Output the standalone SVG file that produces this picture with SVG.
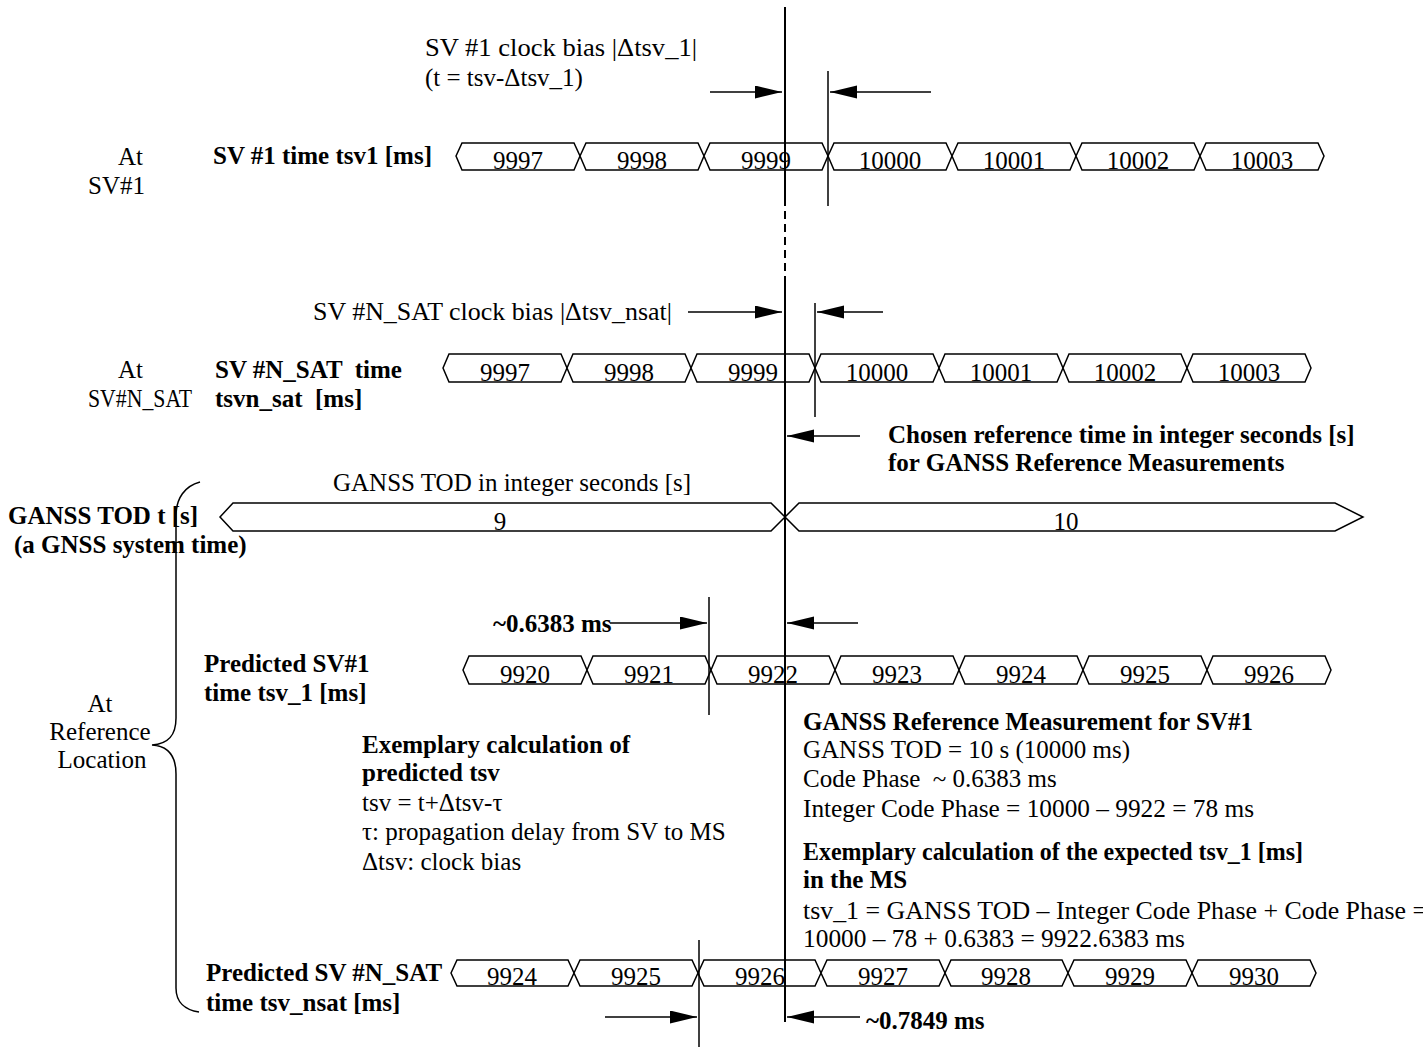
<svg xmlns="http://www.w3.org/2000/svg" width="1423" height="1050" viewBox="0 0 1423 1050">
<defs>
<marker id="ah" markerUnits="userSpaceOnUse" markerWidth="28" markerHeight="14" refX="27" refY="6.5" orient="auto">
<path d="M0,0 L27,6.5 L0,13 z" fill="#000"/>
</marker>
</defs>
<style>
text{font-family:"Liberation Serif","Times New Roman",serif;font-size:25px;fill:#000;white-space:pre}
.b{font-weight:bold}
.m{text-anchor:middle}
.cell{fill:#fff;stroke:#000;stroke-width:1.5}
.ln{stroke:#000;stroke-width:1.5;fill:none}
.arr{stroke:#000;stroke-width:1.5;fill:none;marker-end:url(#ah)}
</style>
<rect width="1423" height="1050" fill="#fff"/>

<g id="labels">
<text x="425" y="56" textLength="272" lengthAdjust="spacingAndGlyphs">SV #1 clock bias |Δtsv_1|</text>
<text x="425" y="86">(t = tsv-Δtsv_1)</text>
<text x="118" y="165">At</text>
<text x="88" y="194">SV#1</text>
<text class="b" x="213" y="164">SV #1 time tsv1 [ms]</text>
<text x="313" y="320" textLength="359" lengthAdjust="spacingAndGlyphs">SV #N_SAT clock bias |Δtsv_nsat|</text>
<text x="118" y="378">At</text>
<text x="88" y="407" textLength="104" lengthAdjust="spacingAndGlyphs">SV#N_SAT</text>
<text class="b" x="215" y="378">SV #N_SAT  time</text>
<text class="b" x="215" y="407">tsvn_sat  [ms]</text>
<text class="b" x="888" y="443">Chosen reference time in integer seconds [s]</text>
<text class="b" x="888" y="471">for GANSS Reference Measurements</text>
<text x="333" y="491">GANSS TOD in integer seconds [s]</text>
<text class="b" x="8" y="524">GANSS TOD t [s]</text>
<text class="b" x="14" y="553">(a GNSS system time)</text>
<text class="b" x="493" y="632">~0.6383 ms</text>
<text class="b" x="204" y="672">Predicted SV#1</text>
<text class="b" x="204" y="701">time tsv_1 [ms]</text>
<text class="m" x="100" y="712">At</text>
<text class="m" x="100" y="740">Reference</text>
<text class="m" x="102" y="768">Location</text>
<text class="b" x="362" y="753">Exemplary calculation of</text>
<text class="b" x="362" y="781">predicted tsv</text>
<text x="362" y="811">tsv = t+Δtsv-τ</text>
<text x="362" y="840">τ: propagation delay from SV to MS</text>
<text x="362" y="870">Δtsv: clock bias</text>
<text class="b" x="803" y="730">GANSS Reference Measurement for SV#1</text>
<text x="803" y="758">GANSS TOD = 10 s (10000 ms)</text>
<text x="803" y="787">Code Phase  ~ 0.6383 ms</text>
<text x="803" y="817" textLength="451" lengthAdjust="spacingAndGlyphs">Integer Code Phase = 10000 – 9922 = 78 ms</text>
<text class="b" x="803" y="860" textLength="500" lengthAdjust="spacingAndGlyphs">Exemplary calculation of the expected tsv_1 [ms]</text>
<text class="b" x="803" y="888">in the MS</text>
<text x="803" y="919" textLength="624" lengthAdjust="spacingAndGlyphs">tsv_1 = GANSS TOD – Integer Code Phase + Code Phase =</text>
<text x="803" y="947" textLength="382" lengthAdjust="spacingAndGlyphs">10000 – 78 + 0.6383 = 9922.6383 ms</text>
<text class="b" x="206" y="981">Predicted SV #N_SAT</text>
<text class="b" x="206" y="1011">time tsv_nsat [ms]</text>
<text class="b" x="866" y="1029">~0.7849 ms</text>
</g>

<g id="row-sv1">
<polygon class="cell" points="456,156 462,143 574,143 580,156 574,170 462,170"/>
<polygon class="cell" points="580,156 586,143 698,143 704,156 698,170 586,170"/>
<polygon class="cell" points="704,156 710,143 822,143 828,156 822,170 710,170"/>
<polygon class="cell" points="828,156 834,143 946,143 952,156 946,170 834,170"/>
<polygon class="cell" points="952,156 958,143 1070,143 1076,156 1070,170 958,170"/>
<polygon class="cell" points="1076,156 1082,143 1194,143 1200,156 1194,170 1082,170"/>
<polygon class="cell" points="1200,156 1206,143 1318,143 1324,156 1318,170 1206,170"/>
<text class="m" x="518" y="169">9997</text>
<text class="m" x="642" y="169">9998</text>
<text class="m" x="766" y="169">9999</text>
<text class="m" x="890" y="169">10000</text>
<text class="m" x="1014" y="169">10001</text>
<text class="m" x="1138" y="169">10002</text>
<text class="m" x="1262" y="169">10003</text>
</g>

<g id="row-svn">
<polygon class="cell" points="443,368 449,354 561,354 567,368 561,382 449,382"/>
<polygon class="cell" points="567,368 573,354 685,354 691,368 685,382 573,382"/>
<polygon class="cell" points="691,368 697,354 809,354 815,368 809,382 697,382"/>
<polygon class="cell" points="815,368 821,354 933,354 939,368 933,382 821,382"/>
<polygon class="cell" points="939,368 945,354 1057,354 1063,368 1057,382 945,382"/>
<polygon class="cell" points="1063,368 1069,354 1181,354 1187,368 1181,382 1069,382"/>
<polygon class="cell" points="1187,368 1193,354 1305,354 1311,368 1305,382 1193,382"/>
<text class="m" x="505" y="381">9997</text>
<text class="m" x="629" y="381">9998</text>
<text class="m" x="753" y="381">9999</text>
<text class="m" x="877" y="381">10000</text>
<text class="m" x="1001" y="381">10001</text>
<text class="m" x="1125" y="381">10002</text>
<text class="m" x="1249" y="381">10003</text>
</g>

<g id="row-tod">
<polygon class="cell" points="220,517 233,503 771,503 785,517 771,531 233,531"/>
<polygon class="cell" points="785,517 799,503 1335,503 1363,517 1335,531 799,531"/>
<text class="m" x="500" y="530">9</text>
<text class="m" x="1066" y="530">10</text>
</g>

<g id="row-pred1">
<polygon class="cell" points="463,670 469,656 581,656 587,670 581,684 469,684"/>
<polygon class="cell" points="587,670 593,656 705,656 711,670 705,684 593,684"/>
<polygon class="cell" points="711,670 717,656 829,656 835,670 829,684 717,684"/>
<polygon class="cell" points="835,670 841,656 953,656 959,670 953,684 841,684"/>
<polygon class="cell" points="959,670 965,656 1077,656 1083,670 1077,684 965,684"/>
<polygon class="cell" points="1083,670 1089,656 1201,656 1207,670 1201,684 1089,684"/>
<polygon class="cell" points="1207,670 1213,656 1325,656 1331,670 1325,684 1213,684"/>
<text class="m" x="525" y="683">9920</text>
<text class="m" x="649" y="683">9921</text>
<text class="m" x="773" y="683">9922</text>
<text class="m" x="897" y="683">9923</text>
<text class="m" x="1021" y="683">9924</text>
<text class="m" x="1145" y="683">9925</text>
<text class="m" x="1269" y="683">9926</text>
</g>

<g id="row-predn">
<polygon class="cell" points="451,973 457,960 568,960 574,973 568,986 457,986"/>
<polygon class="cell" points="574,973 580,960 692,960 698,973 692,986 580,986"/>
<polygon class="cell" points="698,973 704,960 815,960 821,973 815,986 704,986"/>
<polygon class="cell" points="821,973 827,960 939,960 945,973 939,986 827,986"/>
<polygon class="cell" points="945,973 951,960 1062,960 1068,973 1062,986 951,986"/>
<polygon class="cell" points="1068,973 1074,960 1186,960 1192,973 1186,986 1074,986"/>
<polygon class="cell" points="1192,973 1198,960 1310,960 1316,973 1310,986 1198,986"/>
<text class="m" x="512" y="985">9924</text>
<text class="m" x="636" y="985">9925</text>
<text class="m" x="760" y="985">9926</text>
<text class="m" x="883" y="985">9927</text>
<text class="m" x="1006" y="985">9928</text>
<text class="m" x="1130" y="985">9929</text>
<text class="m" x="1254" y="985">9930</text>
</g>

<g id="brace">
<path class="ln" d="M200,482 C185,486 176,498 176,516 L176,718 C176,736 168,744 152,745 C168,746 176,756 176,774 L176,988 C176,1002 185,1010 199,1012"/>
</g>

<g id="connectors">
<line x1="785" y1="7" x2="785" y2="198" stroke="#000" stroke-width="2"/>
<line x1="785" y1="198" x2="785" y2="283" stroke="#000" stroke-width="2" stroke-dasharray="8,5"/>
<line x1="785" y1="283" x2="785" y2="1022" stroke="#000" stroke-width="2"/>
<line class="ln" x1="828" y1="71" x2="828" y2="206"/>
<line class="ln" x1="815" y1="303" x2="815" y2="417"/>
<line class="ln" x1="709" y1="597" x2="709" y2="715"/>
<line class="ln" x1="699" y1="940" x2="699" y2="1047"/>
<line class="arr" x1="710" y1="92" x2="782" y2="92"/>
<line class="arr" x1="931" y1="92" x2="830" y2="92"/>
<line class="arr" x1="688" y1="312" x2="782" y2="312"/>
<line class="arr" x1="883" y1="312" x2="817" y2="312"/>
<line class="arr" x1="860" y1="436" x2="787" y2="436"/>
<line class="arr" x1="610" y1="623" x2="707" y2="623"/>
<line class="arr" x1="858" y1="623" x2="787" y2="623"/>
<line class="arr" x1="605" y1="1017" x2="697" y2="1017"/>
<line class="arr" x1="860" y1="1017" x2="787" y2="1017"/>
</g>
</svg>
